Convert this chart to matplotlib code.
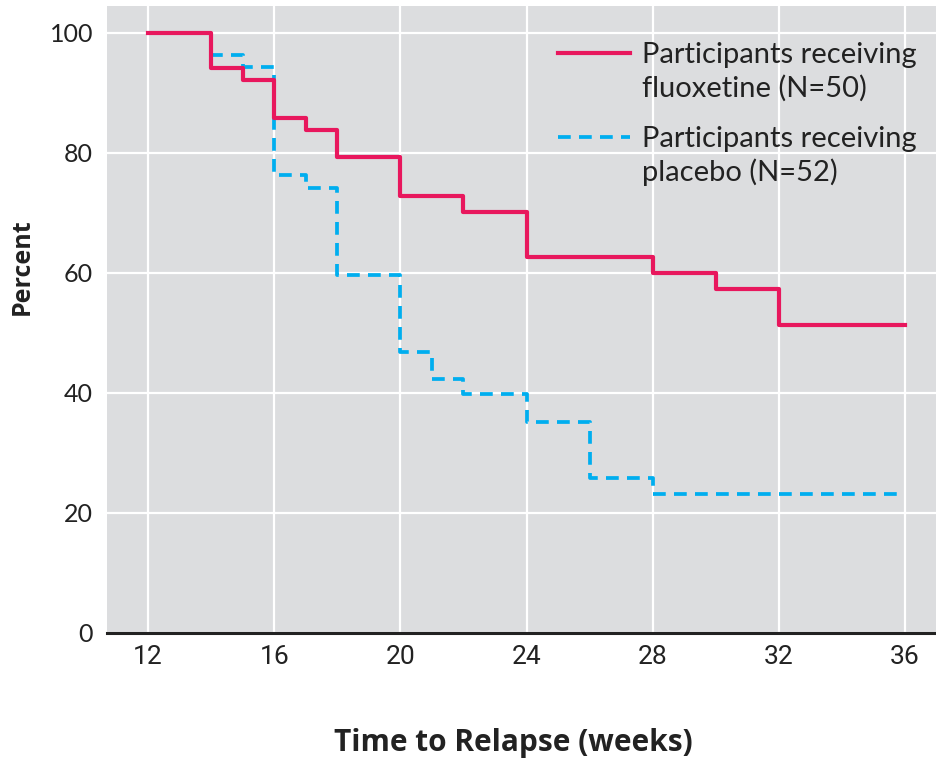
import matplotlib
matplotlib.use("Agg")
import matplotlib.pyplot as plt
from matplotlib.lines import Line2D

# Kaplan-Meier style survival steps (week, percent without relapse)
flx_weeks = [12, 14, 15, 16, 17, 18, 20, 22, 24, 28, 30, 32, 36]
flx_pct = [100, 94.2, 92.2, 85.9, 83.9, 79.4, 72.8, 70.2, 62.6, 60.0, 57.3, 51.4, 51.4]

plc_weeks = [12, 14, 15, 16, 17, 18, 20, 21, 22, 24, 26, 28, 36]
plc_pct = [100, 96.3, 94.4, 76.3, 74.2, 59.7, 46.9, 42.3, 39.8, 35.2, 25.8, 23.2, 23.2]

x_ticks = [12, 16, 20, 24, 28, 32, 36]
y_ticks = [0, 20, 40, 60, 80, 100]

labels = ["Participants receiving\nfluoxetine (N=50)",
          "Participants receiving\nplacebo (N=52)"]

RED = "#E8175D"
BLUE = "#00AEEF"
BG = "#DCDDDF"
DASH = (0, (3.4, 2.2))

fig = plt.figure(figsize=(9.36, 7.6), dpi=100)
ax = fig.add_axes([107 / 936, 127 / 760, 829 / 936, 627 / 760])
ax.set_facecolor(BG)

ax.step(plc_weeks, plc_pct, where="post", color=BLUE, lw=2.7,
        linestyle=DASH, zorder=3)
ax.step(flx_weeks, flx_pct, where="post", color=RED, lw=3.0, zorder=4)

ax.set_xlim(10.70, 36.98)
ax.set_ylim(0, 104.5)
ax.set_xticks(x_ticks)
ax.set_yticks(y_ticks)
ax.grid(True, color="white", lw=1.6)
ax.set_axisbelow(True)

for s in ("top", "right", "left"):
    ax.spines[s].set_visible(False)
ax.spines["bottom"].set_color("#222222")
ax.spines["bottom"].set_linewidth(2.2)
ax.tick_params(length=0)
ax.tick_params(axis="y", pad=10)
ax.tick_params(axis="x", pad=9)

for t in ax.get_xticklabels():
    t.set_family(["Roboto", "DejaVu Sans"])
    t.set_fontsize(19)
    t.set_color("#222222")
for t in ax.get_yticklabels():
    t.set_family(["Lato", "DejaVu Sans"])
    t.set_fontsize(18)
    t.set_color("#222222")

fig.text(513 / 936, 1 - 743 / 760, "Time to Relapse (weeks)", ha="center",
         va="center", fontsize=21.5, fontweight="bold",
         family=["Open Sans", "DejaVu Sans"], color="#222222")
fig.text(22 / 936, 1 - 267 / 760, "Percent", ha="center", va="center",
         rotation=90, fontsize=18, fontweight="bold",
         family=["Open Sans", "DejaVu Sans"], color="#222222")

# legend drawn by hand so the handle sits on the first text line
for (y, lab, col, ls, lw) in [(53, labels[0], RED, "-", 3.0),
                              (137, labels[1], BLUE, DASH, 2.7)]:
    fy = 1 - y / 760
    fig.add_artist(Line2D([558 / 936, 630 / 936], [fy, fy], color=col,
                          lw=lw, linestyle=ls))
    fig.text(642 / 936, fy + 11 / 760, lab, ha="left", va="top",
             fontsize=21, family=["Lato", "DejaVu Sans"], color="#222222",
             linespacing=1.3)

fig.savefig("out.png", dpi=100)
